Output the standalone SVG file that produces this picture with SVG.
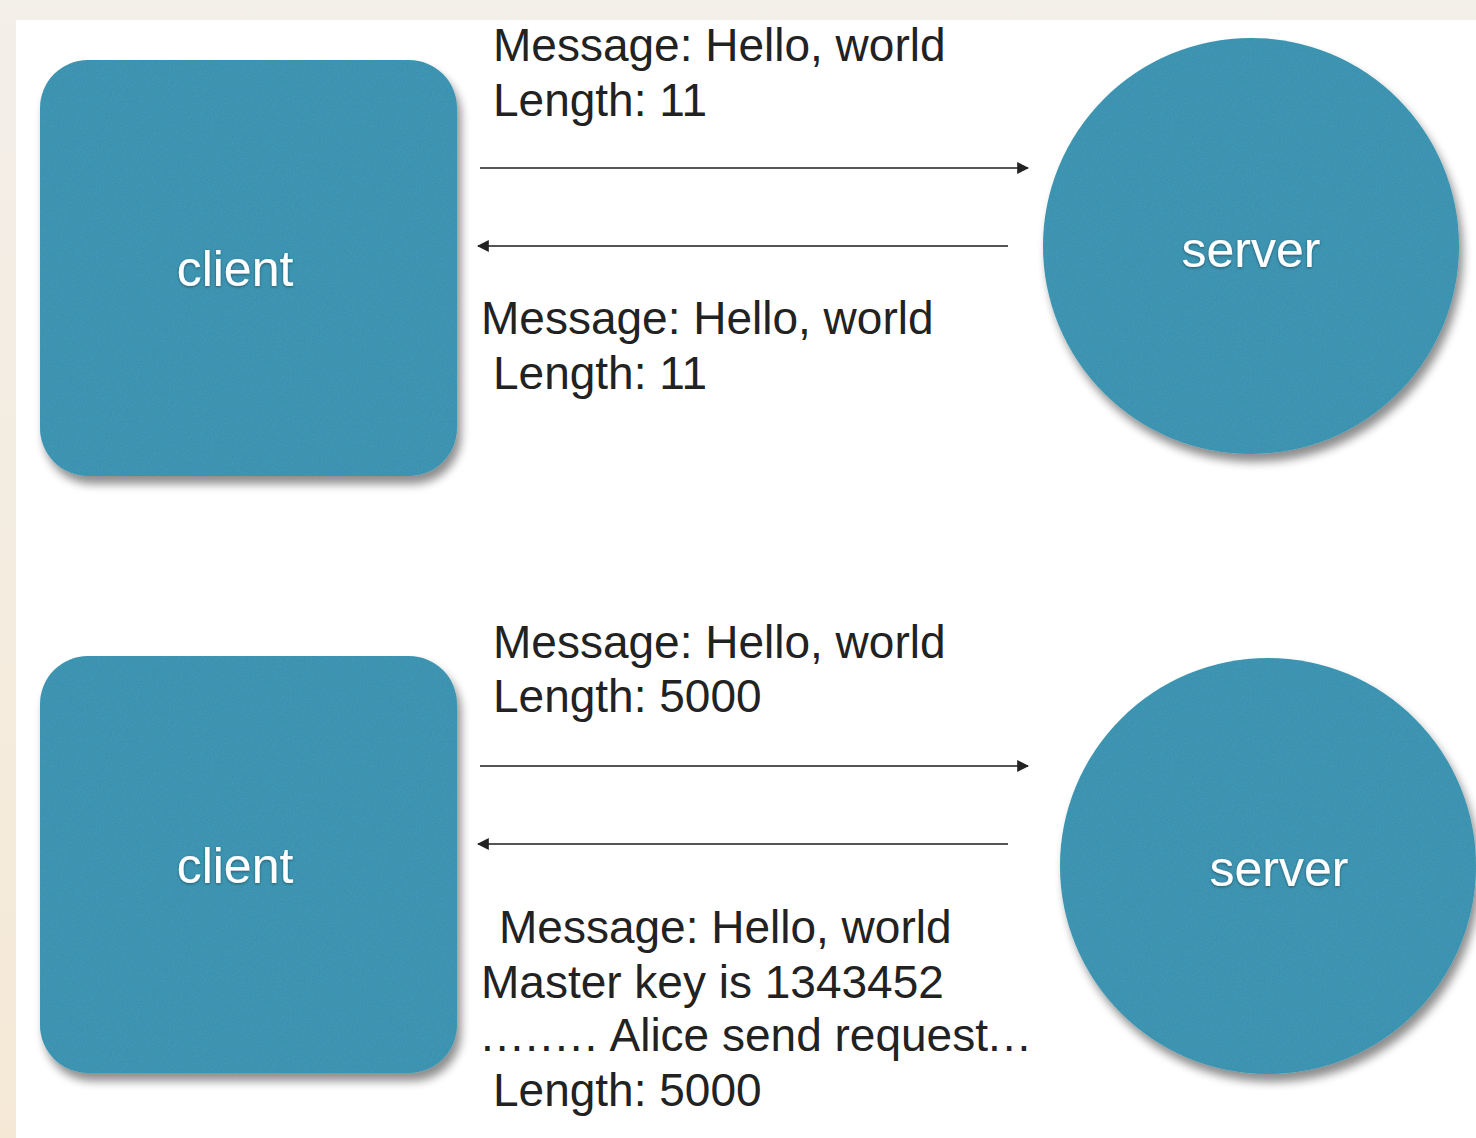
<svg xmlns="http://www.w3.org/2000/svg" width="1476" height="1138" viewBox="0 0 1476 1138">
  <defs>
    <linearGradient id="edge" x1="0" y1="0" x2="0" y2="1">
      <stop offset="0" stop-color="#f3efe9"/>
      <stop offset="1" stop-color="#f5e9d6"/>
    </linearGradient>
    <filter id="felt" x="-10%" y="-10%" width="125%" height="130%">
      <feTurbulence type="fractalNoise" baseFrequency="0.8" numOctaves="2" seed="4" result="noise"/>
      <feColorMatrix in="noise" type="matrix" values="0 0 0 0 0.1  0 0 0 0 0.38  0 0 0 0 0.52  0 0 0 0.6 -0.15" result="grain"/>
      <feComposite in="grain" in2="SourceGraphic" operator="in" result="grainIn"/>
      <feGaussianBlur in="SourceAlpha" stdDeviation="5" result="blur"/>
      <feOffset in="blur" dx="4" dy="8" result="off"/>
      <feComponentTransfer in="off" result="shadow">
        <feFuncA type="linear" slope="0.45"/>
      </feComponentTransfer>
      <feMerge>
        <feMergeNode in="shadow"/>
        <feMergeNode in="SourceGraphic"/>
        <feMergeNode in="grainIn"/>
      </feMerge>
    </filter>
    <filter id="glow" x="-10%" y="-20%" width="120%" height="140%">
      <feGaussianBlur in="SourceAlpha" stdDeviation="1.5" result="b"/>
      <feOffset in="b" dx="0" dy="1" result="o"/>
      <feComponentTransfer in="o" result="s"><feFuncA type="linear" slope="0.4"/></feComponentTransfer>
      <feMerge><feMergeNode in="s"/><feMergeNode in="SourceGraphic"/></feMerge>
    </filter>
    <marker id="arrow" viewBox="0 0 10 10" refX="9" refY="5" markerWidth="6" markerHeight="6" orient="auto-start-reverse" markerUnits="strokeWidth">
      <path d="M0,0 L10,5 L0,10 z" fill="#222"/>
    </marker>
  </defs>
  <style>
    .node { fill: #3891af; filter: url(#felt); }
    .label { font-family: "Liberation Sans", Arial, sans-serif; font-size: 50px; fill: #ffffff; text-anchor: middle; filter: url(#glow); }
    .msg { font-family: "Liberation Sans", Arial, sans-serif; font-size: 46px; fill: #222222; }
    .link { stroke: #555555; stroke-width: 2; fill: none; }
  </style>

  <!-- page backdrop -->
  <rect x="0" y="0" width="1476" height="1138" fill="url(#edge)"/>
  <rect x="16" y="20" width="1460" height="1118" fill="#ffffff"/>

  <!-- upper exchange -->
  <g id="client-top">
    <rect class="node" x="40" y="60" width="417" height="416" rx="48" ry="48"/>
    <text class="label" x="235" y="286">client</text>
  </g>
  <g id="server-top">
    <circle class="node" cx="1251" cy="246" r="208"/>
    <text class="label" x="1251" y="267">server</text>
  </g>

  <!-- lower exchange -->
  <g id="client-bottom">
    <rect class="node" x="40" y="656" width="417" height="417" rx="48" ry="48"/>
    <text class="label" x="235" y="883">client</text>
  </g>
  <g id="server-bottom">
    <circle class="node" cx="1268" cy="866" r="208"/>
    <text class="label" x="1279" y="886">server</text>
  </g>

  <g id="connectors">
    <line class="link" x1="480" y1="168" x2="1028" y2="168" marker-end="url(#arrow)"/>
    <line class="link" x1="1008" y1="246" x2="478" y2="246" marker-end="url(#arrow)"/>
    <line class="link" x1="480" y1="766" x2="1028" y2="766" marker-end="url(#arrow)"/>
    <line class="link" x1="1008" y1="844" x2="478" y2="844" marker-end="url(#arrow)"/>
  </g>

  <g id="messages">
    <text class="msg" x="493" y="61">Message: Hello, world</text>
    <text class="msg" x="493" y="116">Length: 11</text>
    <text class="msg" x="481" y="334">Message: Hello, world</text>
    <text class="msg" x="493" y="389">Length: 11</text>
    <text class="msg" x="493" y="658">Message: Hello, world</text>
    <text class="msg" x="493" y="712">Length: 5000</text>
    <text class="msg" x="499" y="943">Message: Hello, world</text>
    <text class="msg" x="481" y="998">Master key is 1343452</text>
    <text class="msg" x="481" y="1051"><tspan letter-spacing="2">........</tspan> Alice send request<tspan letter-spacing="2">...</tspan></text>
    <text class="msg" x="493" y="1106">Length: 5000</text>
  </g>
</svg>
